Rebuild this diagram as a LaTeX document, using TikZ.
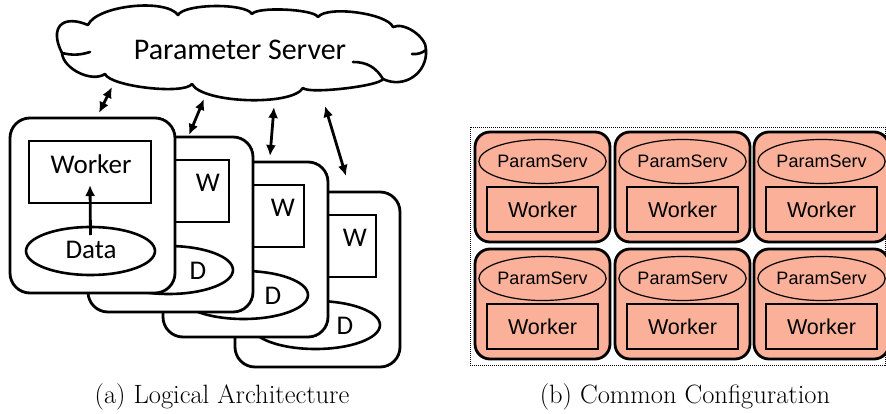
\documentclass[tikz,border=0pt]{standalone}
\usepackage{fontspec}
\newfontfamily\calfont{Carlito}
\newfontfamily\arialfont{Liberation Sans}
\usetikzlibrary{shapes.geometric,arrows.meta,calc}
\definecolor{tilefill}{RGB}{250,176,153}

\begin{document}
\begin{tikzpicture}[x=1pt,y=-1pt,
  cloudline/.style={line width=2.6pt, line cap=round, line join=round},
  outerbox/.style={draw, line width=2.8pt, rounded corners=20pt, fill=white,
    minimum width=165pt, minimum height=175pt, anchor=north west,
    inner sep=0pt, outer sep=0pt},
  innerrect/.style={draw, line width=2.6pt, fill=white, minimum width=122pt,
    minimum height=62pt, anchor=north west, inner sep=0pt, outer sep=0pt},
  dataell/.style={ellipse, draw, line width=2.6pt, fill=white,
    minimum width=129pt, minimum height=48pt, inner sep=0pt, outer sep=0pt},
  cal/.style={font=\calfont\fontsize{27}{30}\selectfont, inner sep=0pt},
  syncarrow/.style={{Latex[length=11pt,width=10pt]}-{Latex[length=11pt,width=10pt]},
    line width=2.8pt},
  feedarrow/.style={-{Latex[length=11pt,width=10pt]}, line width=2.8pt},
  frame/.style={draw, line width=0.9pt, dash pattern=on 1pt off 1pt,
    minimum width=415pt, minimum height=238pt, anchor=north west,
    inner sep=0pt, outer sep=0pt},
  tile/.style={draw, line width=2.8pt, rounded corners=15pt, fill=tilefill,
    minimum width=135pt, minimum height=110pt, anchor=north west,
    inner sep=0pt, outer sep=0pt},
  psell/.style={ellipse, draw, line width=1.2pt, minimum width=119pt,
    minimum height=44pt, inner sep=0pt,
    font=\arialfont\fontsize{18}{20}\selectfont},
  wkrect/.style={draw, line width=1.2pt, minimum width=111pt, minimum height=45pt,
    inner sep=0pt, font=\arialfont\fontsize{21.5}{24}\selectfont},
  caption/.style={font=\fontsize{26.5}{30}\selectfont, inner sep=0pt}
]
\useasboundingbox (0,0) rectangle (886,414);

% ---------- (a) parameter server cloud ----------
\coordinate (cA) at (62,53);
\coordinate (cB) at (88,25);
\coordinate (cC) at (178,15);
\coordinate (cD) at (252,14);
\coordinate (cE) at (318,17);
\coordinate (cF) at (393,27);
\coordinate (cG) at (426,50);
\coordinate (cH) at (383,79);
\coordinate (cI) at (303,88);
\coordinate (cJ) at (192,84);
\coordinate (cK) at (105,74);
\coordinate (cAin) at (90,52);
\coordinate (cGin) at (412,54);
\coordinate (cHin) at (353,62);

\draw[cloudline, fill=white]
  (cA) to[bend left=70, looseness=1.9] (cB)
       to[bend left=60, looseness=0.6] (cC)
       to[bend left=60, looseness=0.45] (cD)
       to[bend left=60, looseness=0.35] (cE)
       to[bend left=60, looseness=0.5] (cF)
       to[bend left=60, looseness=0.8] (cG)
       to[bend left=60, looseness=1.15] (cH)
       to[bend left=60, looseness=0.25] (cI)
       to[bend left=60, looseness=0.5] (cJ)
       to[bend left=60, looseness=0.4] (cK)
       to[bend left=60, looseness=0.85] (cA);
\draw[cloudline] (cA) to[bend right=15] (cAin);
\draw[cloudline] (cG) to[bend left=20] (cGin);
\draw[cloudline] (cHin) to[bend left=30] (cH);
\node[font=\calfont\fontsize{30}{34}\selectfont, inner sep=0pt] (ps) at (240,50) {Parameter Server};

% ---------- (a) stacked workers, back to front ----------
\foreach \i/\bx/\by in {3/235/192, 2/163/162, 1/88/137} {
  \node[outerbox] (box\i) at (\bx,\by) {};
  \node[innerrect] (w\i) at ($(box\i.north west)+(19,23)$) {};
  \node[dataell] (d\i) at ($(box\i.north west)+(80.5,133)$) {};
  \node[cal] (wl\i) at ($(box\i.north west)+(120,46)$) {W};
  \node[cal] (dl\i) at ($(box\i.north west)+(110,134)$) {D};
}
\node[outerbox] (box0) at (10,118) {};
\node[innerrect] (w0) at (29,141) {};
\node[dataell] (d0) at (90.5,251) {};
\node[cal] (wl0) at (91,164) {Worker};
\node[cal] (dl0) at (91,250) {Data};
\draw[feedarrow] ($(d0.north)+(0,8)$) -- ($(w0.south)+(0,-18)$);

% ---------- (a) worker <-> server traffic ----------
\coordinate (s1a) at (99,113);  \coordinate (s1b) at (112,87);
\coordinate (s2a) at (189,135); \coordinate (s2b) at (204,99);
\coordinate (s3a) at (270,156); \coordinate (s3b) at (274,107);
\coordinate (s4a) at (346,176); \coordinate (s4b) at (325,106);
\draw[syncarrow] (s1a) -- (s1b);
\draw[syncarrow] (s2a) -- (s2b);
\draw[syncarrow] (s3a) -- (s3b);
\draw[syncarrow] (s4a) -- (s4b);

% ---------- (b) co-located servers and workers ----------
\node[frame] (fr) at (470,127) {};
\foreach \r/\ty in {1/132, 2/249} {
  \foreach \c/\tx in {1/475, 2/615, 3/754} {
    \node[tile] (t\r\c) at (\tx,\ty) {};
    \node[psell] (p\r\c) at ($(t\r\c.north west)+(67.5,29.5)$) {ParamServ};
    \node[wkrect] (k\r\c) at ($(t\r\c.north west)+(67.5,77.5)$) {Worker};
  }
}

% ---------- captions ----------
\node[caption] (capa) at (222,397) {(a) Logical Architecture};
\node[caption] (capb) at (685,397) {(b) Common Configuration};
\end{tikzpicture}
\end{document}
